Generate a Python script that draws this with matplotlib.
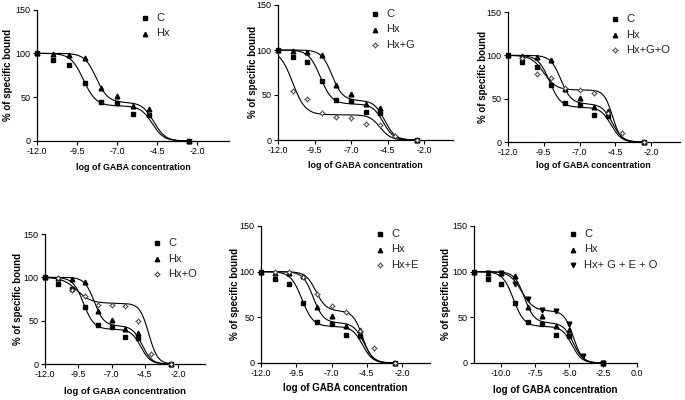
import numpy as np
import matplotlib
matplotlib.use("Agg")
import matplotlib.pyplot as plt

plt.rcParams['font.family'] = ['Liberation Sans', 'DejaVu Sans']

W, H = 685, 400

# ---- data (log GABA concentration, % specific bound) ----
conc = [-12, -11, -10, -9, -8, -7, -6, -5, -2.5]
c_vals = [100, 92, 87, 66, 45, 43, 31, 30, 0]
hx_vals = [100, 99, 98, 95, 61, 51, 40, 36, 0]

conc_3 = [-11, -10, -9, -8, -7, -6, -5, -4, -2.5]
hxg_vals = [55, 46, 30, 26, 25, 18, 17, 4, 0]
hxgo_vals = [97, 78, 74, 62, 60, 57, 33, 10, 0]
hxo_vals = [99, 85, 78, 68, 68, 67, 50, 12, 0]
hxe_vals = [100, 100, 94, 76, 62, 56, 35, 16, 0]
hxgeo_vals = [99, 99, 87, 70, 58, 57, 43, 8, 0]

# two-site fit parameters: fraction high-affinity, logIC50 1, hill 1, logIC50 2, hill 2
fit_c = (0.60, -9.1, 1.1, -4.8, 1.2)
fit_hx = (0.56, -8.3, 1.2, -4.7, 1.2)
fit_hxg = (0.72, -11.0, 1.0, -5.0, 1.2)
fit_hxgo = (0.40, -9.5, 1.0, -4.7, 1.5)
fit_hxo = (0.30, -9.6, 0.8, -4.2, 1.3)
fit_hxe = (0.43, -8.1, 1.2, -4.8, 1.3)
fit_hxgeo = (0.43, -8.5, 1.0, -4.7, 1.3)

third_labels = ["Hx+G", "Hx+G+O", "Hx+O", "Hx+E", "Hx+ G + E + O"]

# ---- layout (pixels): left(x=-12), px per x unit, y0 pixel, y150 pixel ----
panels = [
    dict(left=37, ppu=16.0, y0=141, y150=9.5, ticks=[-12.0, -9.5, -7.0, -4.5, -2.0],
         third=None, leg=(145, 18), ylab=8, xlab=167, xfs=6.4),
    dict(left=278, ppu=14.6, y0=140, y150=5, ticks=[-12.0, -9.5, -7.0, -4.5, -2.0],
         third=(hxg_vals, fit_hxg, third_labels[0], 'star'), leg=(375, 14), ylab=253, xlab=166, xfs=6.4),
    dict(left=508, ppu=14.3, y0=142, y150=12, ticks=[-12.0, -9.5, -7.0, -4.5, -2.0],
         third=(hxgo_vals, fit_hxgo, third_labels[1], 'star'), leg=(615, 19), ylab=483, xlab=166, xfs=6.4),
    dict(left=45, ppu=13.3, y0=364, y150=234, ticks=[-12.0, -9.5, -7.0, -4.5, -2.0],
         third=(hxo_vals, fit_hxo, third_labels[2], 'star'), leg=(157, 243), ylab=18, xlab=392, xfs=6.8),
    dict(left=261, ppu=14.1, y0=363, y150=226, ticks=[-12.0, -9.5, -7.0, -4.5, -2.0],
         third=(hxe_vals, fit_hxe, third_labels[3], 'star'), leg=(380, 234), ylab=235, xlab=388, xfs=7.0),
    dict(left=474, ppu=13.6, y0=363, y150=226, ticks=[-10.0, -7.5, -5.0, -2.5, 0.0],
         third=(hxgeo_vals, fit_hxgeo, third_labels[4], 'v'), leg=(573, 234), ylab=446, xlab=390, xfs=7.0),
]


def two_site(x, p):
    f, a, h1, b, h2 = p
    return 100 * (f / (1 + 10 ** ((x - a) * h1)) + (1 - f) / (1 + 10 ** ((x - b) * h2)))


fig = plt.figure(figsize=(W / 100, H / 100), dpi=100)
xs = np.linspace(-12, -2.5, 400)

star = (4, 1, 0)
mk = dict(color='black', linestyle='none', clip_on=False, zorder=5)

for P in panels:
    left = P['left']
    right = left + 12 * P['ppu']
    ax = fig.add_axes([left / W, 1 - P['y0'] / H, (right - left) / W, (P['y0'] - P['y150']) / H])
    ax.set_xlim(-12, 0)
    ax.set_ylim(0, 150)
    for s in ['top', 'right']:
        ax.spines[s].set_visible(False)
    for s in ['left', 'bottom']:
        ax.spines[s].set_linewidth(0.9)
    ax.set_xticks(P['ticks'])
    ax.set_xticklabels([f"{t:.1f}" for t in P['ticks']])
    ax.set_yticks([0, 50, 100, 150])
    ax.tick_params(labelsize=6.5, length=3, width=0.8, pad=1.5, colors='black')

    # curves
    ax.plot(xs, two_site(xs, fit_c), color='black', lw=0.8)
    ax.plot(xs, two_site(xs, fit_hx), color='black', lw=0.8)
    ax.plot(conc, c_vals, marker='s', ms=3.2, **mk)
    ax.plot(conc, hx_vals, marker='^', ms=3.4, **mk)
    if P['third'] is not None:
        vals, fit, lab, m = P['third']
        ax.plot(xs, two_site(xs, fit), color='black', lw=0.8)
        if m == 'star':
            ax.plot(conc_3, vals, marker=star, ms=4, mfc='white', mec='#444444', mew=0.7,
                    linestyle='none', clip_on=False, zorder=5)
        else:
            ax.plot(conc_3, vals, marker='v', ms=3.4, **mk)

    # legend
    lx, ly = P['leg']
    labels = ["C", "Hx"] + ([P['third'][2]] if P['third'] is not None else [])
    markers = ['s', '^'] + ([P['third'][3]] if P['third'] is not None else [])
    for i, (lab, m) in enumerate(zip(labels, markers)):
        yy = ly + i * 15.5
        if m == 'star':
            fig.lines.append(plt.Line2D([lx / W], [1 - yy / H], marker=star, ms=4, mfc='white',
                                        mec='#444444', mew=0.7, transform=fig.transFigure))
        else:
            fig.lines.append(plt.Line2D([lx / W], [1 - yy / H], marker=m, ms=3.2, color='black',
                                        transform=fig.transFigure))
        fig.text((lx + 11) / W, 1 - yy / H, lab, fontsize=8, va='center', ha='left', color='#222222')

    # axis labels
    cx = (left + right) / 2
    fig.text(cx / W, 1 - P['xlab'] / H, "log of GABA concentration", fontsize=P['xfs'],
             fontweight='bold', ha='center', va='center')
    cy = (P['y0'] + P['y150']) / 2
    fig.text(P['ylab'] / W, 1 - cy / H, "% of specific bound", fontsize=7, fontweight='bold',
             rotation=90, ha='center', va='center')

fig.savefig("out.png", dpi=100)
